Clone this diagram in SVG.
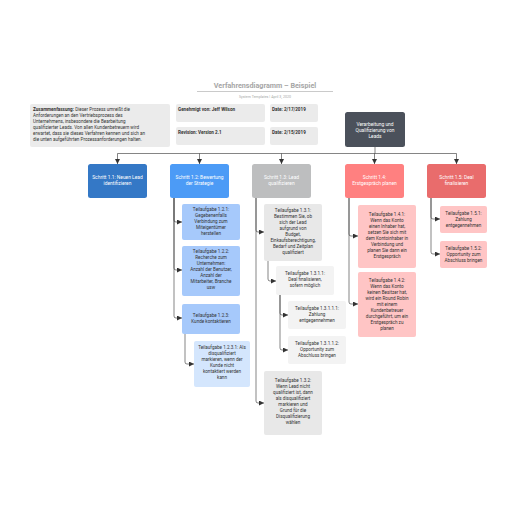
<svg xmlns="http://www.w3.org/2000/svg" width="516" height="516" viewBox="0 0 516 516">
<defs>
<marker id="ah" viewBox="0 0 6 6" refX="6" refY="3" markerWidth="5" markerHeight="5" markerUnits="userSpaceOnUse" orient="auto">
<path d="M0,0 L6,3 L0,6 z" fill="#333"/>
</marker>
<style>
text{font-family:Roboto,"Liberation Sans",sans-serif;}
.t{font-size:4.6px;fill:#333;text-anchor:middle;}
.s{font-size:4.9px;fill:#fff;text-anchor:middle;}
.i{font-size:4.6px;fill:#333;}
.b{font-weight:bold;}
.c{fill:none;stroke:#333;stroke-width:0.6;}
.gbox{fill:#ebebeb;}
</style>
</defs>
<rect width="516" height="516" fill="#fff"/>
<text x="265" y="88" style="font-size:7.2px;font-weight:bold;fill:#a6a6a6;text-anchor:middle;">Verfahrensdiagramm – Beispiel</text>
<line x1="197" y1="91.5" x2="333" y2="91.5" stroke="#a6a6a6" stroke-width="0.6"/>
<text x="265" y="98" style="font-size:3.6px;fill:#a6a6a6;text-anchor:middle;">System Templates  |  April 3, 2020</text>

<g id="summary">
<rect class="gbox" x="30" y="104" width="140" height="43" rx="2"/>
<text class="i" x="33" y="111"><tspan class="b">Zusammenfassung:</tspan> Dieser Prozess umreißt die</text>
<text class="i" x="33" y="117">Anforderungen an den Vertriebsprozess des</text>
<text class="i" x="33" y="123">Unternehmens, insbesondere die Bearbeitung</text>
<text class="i" x="33" y="129">qualifizierter Leads. Von allen Kundenbetreuern wird</text>
<text class="i" x="33" y="135">erwartet, dass sie dieses Verfahren kennen und sich an</text>
<text class="i" x="33" y="141">die unten aufgeführten Prozessanforderungen halten.</text>
</g>
<g id="approved">
<rect class="gbox" x="176" y="104" width="89" height="18" rx="2"/>
<text class="i b" x="178" y="111">Genehmigt von: Jeff Wilson</text>
</g>
<g id="date1">
<rect class="gbox" x="270" y="104" width="48" height="18" rx="2"/>
<text class="i b" x="272" y="111">Date: 2/17/2019</text>
</g>
<g id="revision">
<rect class="gbox" x="176" y="127" width="89" height="18" rx="2"/>
<text class="i b" x="178" y="134">Revision: Version 2.1</text>
</g>
<g id="date2">
<rect class="gbox" x="270" y="127" width="48" height="18" rx="2"/>
<text class="i b" x="272" y="134">Date: 2/15/2019</text>
</g>

<g id="connectors">
<path class="c" d="M375,147 V153.5 M117.5,153.5 H456.5"/>
<path class="c" d="M117.5,153.5 V164" marker-end="url(#ah)"/>
<path class="c" d="M199.5,153.5 V164" marker-end="url(#ah)"/>
<path class="c" d="M281.5,153.5 V164" marker-end="url(#ah)"/>
<path class="c" d="M374.5,153.5 V164" marker-end="url(#ah)"/>
<path class="c" d="M456.5,153.5 V164" marker-end="url(#ah)"/>
<!-- 1.2 -->
<path class="c" d="M174,198 V220 Q174,222 176,222 H182" marker-end="url(#ah)"/>
<path class="c" d="M174,198 V268 Q174,270 176,270 H182" marker-end="url(#ah)"/>
<path class="c" d="M174,198 V316 Q174,318 176,318 H182" marker-end="url(#ah)"/>
<path class="c" d="M185,334 V362 Q185,364 187,364 H194" marker-end="url(#ah)"/>
<!-- 1.3 -->
<path class="c" d="M256,198 V230 Q256,232 258,232 H264" marker-end="url(#ah)"/>
<path class="c" d="M256,198 V401 Q256,403 258,403 H264" marker-end="url(#ah)"/>
<path class="c" d="M268,261 V279 Q268,281 270,281 H276" marker-end="url(#ah)"/>
<path class="c" d="M280,295 V313 Q280,315 282,315 H288" marker-end="url(#ah)"/>
<path class="c" d="M280,295 V348 Q280,350 282,350 H288" marker-end="url(#ah)"/>
<!-- 1.4 -->
<path class="c" d="M349,198 V234 Q349,236 351,236 H358" marker-end="url(#ah)"/>
<path class="c" d="M349,198 V302 Q349,304 351,304 H358" marker-end="url(#ah)"/>
<!-- 1.5 -->
<path class="c" d="M431,198 V217 Q431,219 433,219 H440" marker-end="url(#ah)"/>
<path class="c" d="M431,198 V252 Q431,254 433,254 H440" marker-end="url(#ah)"/>
</g>

<g id="top">
<rect x="345" y="112" width="60" height="35" rx="2.5" fill="#4b515b"/>
<text class="s" x="375" y="126">Verarbeitung und</text>
<text class="s" x="375" y="132">Qualifizierung von</text>
<text class="s" x="375" y="138">Leads</text>
</g>

<g id="s11">
<rect x="88" y="164" width="59" height="34" rx="2.5" fill="#3478c6"/>
<text class="s" x="117.5" y="179">Schritt 1.1: Neuen Lead</text>
<text class="s" x="117.5" y="185">identifizieren</text>
</g>
<g id="s12">
<rect x="170" y="164" width="59" height="34" rx="2.5" fill="#4c9bf6"/>
<text class="s" x="199.5" y="179">Schritt 1.2: Bewertung</text>
<text class="s" x="199.5" y="185">der Strategie</text>
</g>
<g id="s13">
<rect x="252" y="164" width="59" height="34" rx="2.5" fill="#bdbebf"/>
<text class="s" x="281.5" y="179">Schritt 1.3: Lead</text>
<text class="s" x="281.5" y="185">qualifizieren</text>
</g>
<g id="s14">
<rect x="345" y="164" width="59" height="34" rx="2.5" fill="#ff8080"/>
<text class="s" x="374.5" y="179">Schritt 1.4:</text>
<text class="s" x="374.5" y="185">Erstgespräch planen</text>
</g>
<g id="s15">
<rect x="427" y="164" width="59" height="34" rx="2.5" fill="#e96c6c"/>
<text class="s" x="456.5" y="179">Schritt 1.5: Deal</text>
<text class="s" x="456.5" y="185">finalisieren</text>
</g>

<g id="t121">
<rect x="182" y="204" width="58" height="36" rx="2" fill="#a6c9fb"/>
<text class="t" x="211" y="211">Teilaufgabe 1.2.1:</text>
<text class="t" x="211" y="217">Gegebenenfalls</text>
<text class="t" x="211" y="223">Verbindung zum</text>
<text class="t" x="211" y="229">Miteigentümer</text>
<text class="t" x="211" y="235">herstellen</text>
</g>
<g id="t122">
<rect x="182" y="246" width="58" height="50" rx="2" fill="#a6c9fb"/>
<text class="t" x="211" y="253">Teilaufgabe 1.2.2:</text>
<text class="t" x="211" y="259">Recherche zum</text>
<text class="t" x="211" y="265">Unternehmen:</text>
<text class="t" x="211" y="271">Anzahl der Benutzer,</text>
<text class="t" x="211" y="277">Anzahl der</text>
<text class="t" x="211" y="283">Mitarbeiter, Branche</text>
<text class="t" x="211" y="289">usw</text>
</g>
<g id="t123">
<rect x="182" y="304" width="58" height="30" rx="2" fill="#a6c9fb"/>
<text class="t" x="211" y="317">Teilaufgabe 1.2.3:</text>
<text class="t" x="211" y="323">Kunde kontaktieren</text>
</g>
<g id="t1231">
<rect x="194" y="341" width="56" height="46" rx="2" fill="#d4e6fd"/>
<text class="t" x="222" y="349">Teilaufgabe 1.2.3.1: Als</text>
<text class="t" x="222" y="355">disqualifiziert</text>
<text class="t" x="222" y="361">markieren, wenn der</text>
<text class="t" x="222" y="367">Kunde nicht</text>
<text class="t" x="222" y="373">kontaktiert werden</text>
<text class="t" x="222" y="379">kann</text>
</g>

<g id="t131">
<rect x="264" y="204" width="58" height="57" rx="2" fill="#e8e8e8"/>
<text class="t" x="293" y="212">Teilaufgabe 1.3.1:</text>
<text class="t" x="293" y="218">Bestimmen Sie, ob</text>
<text class="t" x="293" y="224">sich der Lead</text>
<text class="t" x="293" y="230">aufgrund von</text>
<text class="t" x="293" y="236">Budget,</text>
<text class="t" x="293" y="242">Einkaufsberechtigung,</text>
<text class="t" x="293" y="248">Bedarf und Zeitplan</text>
<text class="t" x="293" y="254">qualifiziert</text>
</g>
<g id="t1311">
<rect x="276" y="266" width="58" height="29" rx="2" fill="#f3f3f3"/>
<text class="t" x="305" y="275">Teilaufgabe 1.3.1.1:</text>
<text class="t" x="305" y="281">Deal finalisieren,</text>
<text class="t" x="305" y="287">sofern möglich</text>
</g>
<g id="t13111">
<rect x="288" y="301" width="58" height="28" rx="2" fill="#f3f3f3"/>
<text class="t" x="317" y="310">Teilaufgabe 1.3.1.1.1:</text>
<text class="t" x="317" y="316">Zahlung</text>
<text class="t" x="317" y="322">entgegennehmen</text>
</g>
<g id="t13112">
<rect x="288" y="336" width="58" height="28" rx="2" fill="#f3f3f3"/>
<text class="t" x="317" y="345">Teilaufgabe 1.3.1.1.2:</text>
<text class="t" x="317" y="351">Opportunity zum</text>
<text class="t" x="317" y="357">Abschluss bringen</text>
</g>
<g id="t132">
<rect x="264" y="371" width="58" height="64" rx="2" fill="#e8e8e8"/>
<text class="t" x="293" y="382">Teilaufgabe 1.3.2:</text>
<text class="t" x="293" y="388">Wenn Lead nicht</text>
<text class="t" x="293" y="394">qualifiziert ist, dann</text>
<text class="t" x="293" y="400">als disqualifiziert</text>
<text class="t" x="293" y="406">markieren und</text>
<text class="t" x="293" y="412">Grund für die</text>
<text class="t" x="293" y="418">Disqualifizierung</text>
<text class="t" x="293" y="424">wählen</text>
</g>

<g id="t141">
<rect x="358" y="205" width="58" height="63" rx="2" fill="#ffc5c5"/>
<text class="t" x="387" y="216">Teilaufgabe 1.4.1:</text>
<text class="t" x="387" y="222">Wenn das Konto</text>
<text class="t" x="387" y="228">einen Inhaber hat,</text>
<text class="t" x="387" y="234">setzen Sie sich mit</text>
<text class="t" x="387" y="240">dem Kontoinhaber in</text>
<text class="t" x="387" y="246">Verbindung und</text>
<text class="t" x="387" y="252">planen Sie dann ein</text>
<text class="t" x="387" y="258">Erstgespräch</text>
</g>
<g id="t142">
<rect x="358" y="272" width="58" height="65" rx="2" fill="#ffc5c5"/>
<text class="t" x="387" y="282">Teilaufgabe 1.4.2:</text>
<text class="t" x="387" y="288">Wenn das Konto</text>
<text class="t" x="387" y="294">keinen Besitzer hat,</text>
<text class="t" x="387" y="300">wird ein Round Robin</text>
<text class="t" x="387" y="306">mit einem</text>
<text class="t" x="387" y="312">Kundenbetreuer</text>
<text class="t" x="387" y="318">durchgeführt, um ein</text>
<text class="t" x="387" y="324">Erstgespräch zu</text>
<text class="t" x="387" y="330">planen</text>
</g>
<g id="t151">
<rect x="440" y="206" width="47" height="27" rx="2" fill="#ffc5c5"/>
<text class="t" x="463.5" y="215">Teilaufgabe 1.5.1:</text>
<text class="t" x="463.5" y="221">Zahlung</text>
<text class="t" x="463.5" y="227">entgegennehmen</text>
</g>
<g id="t152">
<rect x="440" y="241" width="47" height="27" rx="2" fill="#ffc5c5"/>
<text class="t" x="463.5" y="250">Teilaufgabe 1.5.2:</text>
<text class="t" x="463.5" y="256">Opportunity zum</text>
<text class="t" x="463.5" y="262">Abschluss bringen</text>
</g>
</svg>
